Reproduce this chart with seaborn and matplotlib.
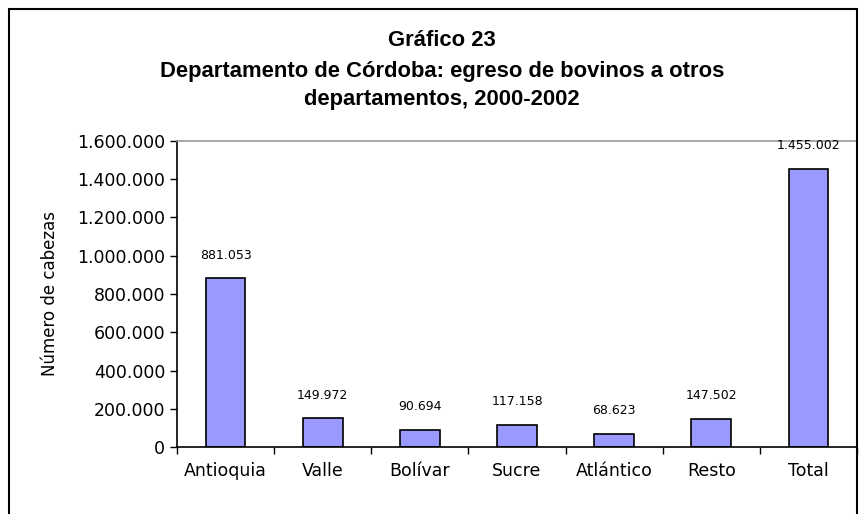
import numpy as np
import pandas as pd
import seaborn as sns
import matplotlib.pyplot as plt
from matplotlib.patches import Rectangle
from matplotlib.ticker import FuncFormatter, FixedLocator

sns.set_style("ticks")
plt.rcParams['font.family'] = ['DejaVu Sans']
plt.rcParams['text.color'] = 'black'
plt.rcParams['axes.labelcolor'] = 'black'
plt.rcParams['xtick.color'] = 'black'
plt.rcParams['ytick.color'] = 'black'

departamentos = ["Antioquia", "Valle", "Bolívar", "Sucre", "Atlántico", "Resto", "Total"]
cabezas = [881053, 149972, 90694, 117158, 68623, 147502, 1455002]
y_ticks = [0, 200000, 400000, 600000, 800000, 1000000, 1200000, 1400000, 1600000]


def miles(v, pos=None):
    # thousands separator with dots
    return f"{int(v):,}".replace(",", ".")


df = pd.DataFrame({"departamento": departamentos, "cabezas": cabezas})

fig = plt.figure(figsize=(8.66, 5.14), dpi=100)
ax = fig.add_axes([177 / 866, 1 - 447 / 514, 680 / 866, 306 / 514])

sns.barplot(data=df, x="departamento", y="cabezas", color="#9999FF",
            edgecolor="black", linewidth=1.2, width=0.41, saturation=1, ax=ax)

for i, v in enumerate(cabezas):
    ax.annotate(miles(v), (i, v), xytext=(0, 12), textcoords="offset points",
                ha="center", va="bottom", fontsize=9, color="black")

ax.set_ylim(0, 1600000)
ax.set_xlim(-0.5, len(departamentos) - 0.5)
ax.yaxis.set_major_locator(FixedLocator(y_ticks))
ax.yaxis.set_major_formatter(FuncFormatter(miles))
ax.tick_params(axis="y", labelsize=12.5, length=5, width=1, color="black")

# ticks between categories, labels at centres
ax.set_xticks(np.arange(-0.5, len(departamentos)), labels=[""] * (len(departamentos) + 1))
ax.set_xticks(range(len(departamentos)), labels=departamentos, minor=True)
ax.tick_params(axis="x", which="major", length=5, width=1, color="black")
ax.tick_params(axis="x", which="minor", length=0, labelsize=12.5, pad=11)

ax.set_xlabel("")
ax.set_ylabel("Número de cabezas", fontsize=12, labelpad=13)

for s in ["left", "bottom"]:
    ax.spines[s].set_color("black")
    ax.spines[s].set_linewidth(1.2)
for s in ["top", "right"]:
    ax.spines[s].set_visible(True)
    ax.spines[s].set_color("#999999")
    ax.spines[s].set_linewidth(1.2)

titulos = ["Gráfico 23",
           "Departamento de Córdoba: egreso de bovinos a otros",
           "departamentos, 2000-2002"]
for t, ypx in zip(titulos, [40, 71, 100]):
    fig.text(442 / 866, 1 - ypx / 514, t, ha="center", va="center", color="black",
             fontsize=15.8, fontweight="bold", family="Liberation Sans")

fig.patches.append(Rectangle((9 / 866, -0.1), 848 / 866, 1.1 - 9 / 514,
                             transform=fig.transFigure, fill=False,
                             edgecolor="black", linewidth=1.5))

fig.savefig("out.png", dpi=100)
